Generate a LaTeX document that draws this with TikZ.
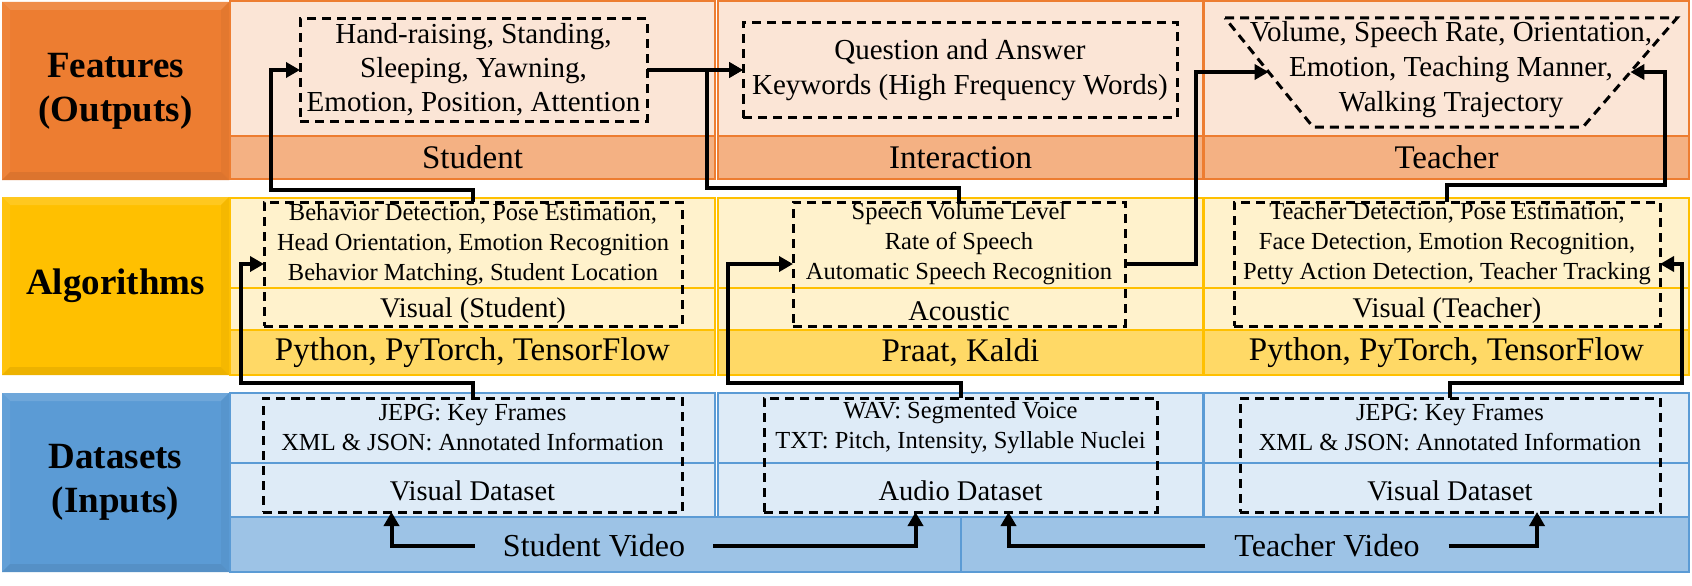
\documentclass[tikz,border=0pt]{standalone}
\usepackage{fontspec}
\setmainfont{Liberation Serif}
\usetikzlibrary{arrows.meta,calc}
\definecolor{fOr}{HTML}{ED7D31}
\definecolor{fPale}{HTML}{FBE5D6}
\definecolor{fMid}{HTML}{F4B183}
\definecolor{aGold}{HTML}{FFC000}
\definecolor{aPale}{HTML}{FFF2CC}
\definecolor{aMid}{HTML}{FFD966}
\definecolor{dBlue}{HTML}{5B9BD5}
\definecolor{dPale}{HTML}{DEEBF7}
\definecolor{dMid}{HTML}{9DC3E6}
\newcommand{\fsz}[2]{\fontsize{#1}{#2}\selectfont}
\newcommand{\bevel}[2]{%
  \fill[#2!88!white] (#1.north west) -- (#1.north east) -- ($(#1.north east)+(-8,8)$) -- ($(#1.north west)+(8,8)$) -- cycle;
  \fill[#2!95!white] (#1.north west) -- (#1.south west) -- ($(#1.south west)+(8,-8)$) -- ($(#1.north west)+(8,8)$) -- cycle;
  \fill[#2!96!black] (#1.north east) -- (#1.south east) -- ($(#1.south east)+(-8,-8)$) -- ($(#1.north east)+(-8,8)$) -- cycle;
  \fill[#2!93!black] (#1.south west) -- (#1.south east) -- ($(#1.south east)+(-8,-8)$) -- ($(#1.south west)+(8,-8)$) -- cycle;}
\begin{document}
\begin{tikzpicture}[x=1pt,y=-1pt,
  cell/.style={rectangle,draw,line width=2pt,inner sep=0pt,outer sep=0pt,anchor=north west},
  hdr/.style={rectangle,draw=none,inner sep=0pt,outer sep=0pt,anchor=north west,font=\fsz{37}{44}\bfseries,align=center},
  dbox/.style={draw=black,line width=3pt,dash pattern=on 9pt off 6pt,inner sep=0pt,outer sep=0pt},
  conn/.style={line width=4pt,-{Triangle[length=14pt,width=15pt]}},
  txt/.style={inner sep=0pt,align=center}]
\useasboundingbox[fill=white] (0,0) rectangle (1692,586);

% ---------- left headers ----------
\node[hdr,fill=fOr,minimum width=227,minimum height=178] (fh) at (2,2) {};
\node[hdr,fill=aGold,minimum width=227,minimum height=178] (ah) at (2,197) {};
\node[hdr,fill=dBlue,minimum width=227,minimum height=179] (dh) at (2,393) {};
\bevel{fh}{fOr}
\bevel{ah}{aGold}
\bevel{dh}{dBlue}
\node[txt,font=\fsz{37}{44}\bfseries] (fht) at (fh.center) {Features\\(Outputs)};
\node[txt,font=\fsz{37}{44}\bfseries] (aht) at (ah.center) {Algorithms};
\node[txt,font=\fsz{37}{44}\bfseries] (dht) at (dh.center) {Datasets\\(Inputs)};

% ---------- features columns ----------
\node[cell,draw=fOr,fill=fPale,minimum width=485,minimum height=135] (fu1) at (230,1) {};
\node[cell,draw=fOr,fill=fPale,minimum width=485,minimum height=135] (fu2) at (718,1) {};
\node[cell,draw=fOr,fill=fPale,minimum width=485,minimum height=135] (fu3) at (1204,1) {};
\node[cell,draw=fOr,fill=fMid,minimum width=485,minimum height=43,font=\fsz{33}{38}] (fb1) at (230,136) {Student};
\node[cell,draw=fOr,fill=fMid,minimum width=485,minimum height=43,font=\fsz{33}{38}] (fb2) at (718,136) {Interaction};
\node[cell,draw=fOr,fill=fMid,minimum width=485,minimum height=43,font=\fsz{33}{38}] (fb3) at (1204,136) {Teacher};

% ---------- algorithms columns ----------
\node[cell,draw=aGold,fill=aPale,minimum width=485,minimum height=90] (ar11) at (230,198) {};
\node[cell,draw=aGold,fill=aPale,minimum width=485,minimum height=90] (ar12) at (718,198) {};
\node[cell,draw=aGold,fill=aPale,minimum width=485,minimum height=90] (ar13) at (1204,198) {};
\node[cell,draw=aGold,fill=aPale,minimum width=485,minimum height=42] (ar21) at (230,288) {};
\node[cell,draw=aGold,fill=aPale,minimum width=485,minimum height=42] (ar22) at (718,288) {};
\node[cell,draw=aGold,fill=aPale,minimum width=485,minimum height=42] (ar23) at (1204,288) {};
\node[cell,draw=aGold,fill=aMid,minimum width=485,minimum height=45,font=\fsz{33}{38}] (ar31) at (230,330) {Python, PyTorch, TensorFlow};
\node[cell,draw=aGold,fill=aMid,minimum width=485,minimum height=45,font=\fsz{33}{38}] (ar32) at (718,330) {Praat, Kaldi};
\node[cell,draw=aGold,fill=aMid,minimum width=485,minimum height=45,font=\fsz{33}{38}] (ar33) at (1204,330) {Python, PyTorch, TensorFlow};

% ---------- datasets columns ----------
\node[cell,draw=dBlue,fill=dPale,minimum width=485,minimum height=70] (dr11) at (230,393) {};
\node[cell,draw=dBlue,fill=dPale,minimum width=485,minimum height=70] (dr12) at (718,393) {};
\node[cell,draw=dBlue,fill=dPale,minimum width=485,minimum height=70] (dr13) at (1204,393) {};
\node[cell,draw=dBlue,fill=dPale,minimum width=485,minimum height=54] (dr21) at (230,463) {};
\node[cell,draw=dBlue,fill=dPale,minimum width=485,minimum height=54] (dr22) at (718,463) {};
\node[cell,draw=dBlue,fill=dPale,minimum width=485,minimum height=54] (dr23) at (1204,463) {};
\node[cell,draw=dBlue,fill=dMid,minimum width=731,minimum height=55] (svc) at (230,517) {};
\node[cell,draw=dBlue,fill=dMid,minimum width=728,minimum height=55] (tvc) at (961,517) {};

% ---------- feature boxes ----------
\node[dbox,rectangle,minimum width=347,minimum height=102,align=center,font=\fsz{29}{34}] (sf) at (473.5,70) {Hand-raising, Standing,\\Sleeping, Yawning,\\Emotion, Position, Attention};
\node[dbox,rectangle,minimum width=434,minimum height=95,align=center,font=\fsz{29}{35}] (qa) at (960,70) {Question and Answer\\Keywords (High Frequency Words)};
\node[txt,font=\fsz{29}{35}] (tf) at (1451,70) {Volume, Speech Rate, Orientation,\\Emotion, Teaching Manner,\\Walking Trajectory};
\draw[dbox] (1225,18) -- (1677,18) -- (1583,127) -- (1313,127) -- cycle;
\coordinate (tfl) at (1268.6,72);
\coordinate (tfr) at (1630.4,72);

% ---------- algorithm boxes ----------
\node[dbox,rectangle,minimum width=418,minimum height=124] (sa) at (473,264) {};
\node[dbox,rectangle,minimum width=332,minimum height=124] (aa) at (959,264) {};
\node[dbox,rectangle,minimum width=426,minimum height=124] (ta) at (1447,264) {};
\node[txt,font=\fsz{24.5}{30}] (sat) at (473,245) {Behavior Detection, Pose Estimation,\\Head Orientation, Emotion Recognition\\Behavior Matching, Student Location};
\node[txt,font=\fsz{24.5}{30}] (aat) at (959,244) {Speech Volume Level\\Rate of Speech\\Automatic Speech Recognition};
\node[txt,font=\fsz{24.5}{30}] (tat) at (1447,244) {Teacher Detection, Pose Estimation,\\Face Detection, Emotion Recognition,\\Petty Action Detection, Teacher Tracking};
\node[txt,font=\fsz{28.5}{32}] (sal) at (473,311) {Visual (Student)};
\node[txt,font=\fsz{28.5}{32}] (aal) at (959,311) {Acoustic};
\node[txt,font=\fsz{28.5}{32}] (tal) at (1447,311) {Visual (Teacher)};

% ---------- dataset boxes ----------
\node[dbox,rectangle,minimum width=419,minimum height=114] (sd) at (472.5,455) {};
\node[dbox,rectangle,minimum width=393,minimum height=114] (ad) at (960.5,455) {};
\node[dbox,rectangle,minimum width=420,minimum height=114] (td) at (1450,455) {};
\node[txt,font=\fsz{24.5}{30}] (sdt) at (472.5,428) {JEPG: Key Frames\\XML \& JSON: Annotated Information};
\node[txt,font=\fsz{24.5}{30}] (adt) at (960.5,428) {WAV: Segmented Voice\\TXT: Pitch, Intensity, Syllable Nuclei};
\node[txt,font=\fsz{24.5}{30}] (tdt) at (1450,428) {JEPG: Key Frames\\XML \& JSON: Annotated Information};
\node[txt,font=\fsz{28.5}{32}] (sdl) at (472.5,491) {Visual Dataset};
\node[txt,font=\fsz{28.5}{32}] (adl) at (960.5,491) {Audio Dataset};
\node[txt,font=\fsz{28.5}{32}] (tdl) at (1450,491) {Visual Dataset};

% ---------- video labels ----------
\node[inner ysep=0pt,inner xsep=28pt,font=\fsz{32}{36}] (svt) at (594,546) {Student Video};
\node[inner ysep=0pt,inner xsep=29pt,font=\fsz{32}{36}] (tvt) at (1327,546) {Teacher Video};

% ---------- connectors ----------
\draw[conn] (sa.north) -- ++(0,-12) -| ($(sf.west)+(-29,0)$) -- (sf.west);
\draw[conn] (sf.east) -- (qa.west);
\draw[conn] (aa.north) -- ++(0,-14) -| ($(qa.west)+(-36,0)$) -- (qa.west);
\draw[conn] (aa.east) -- ++(71,0) |- (tfl);
\draw[conn] (ta.north) -- ++(0,-17) -- ++(218,0) |- (tfr);
\draw[conn] (sd.north) -- ++(0,-15) -| ($(sa.west)+(-23,0)$) -- (sa.west);
\draw[conn] (ad.north) -- ++(0,-15) -| ($(aa.west)+(-65,0)$) -- (aa.west);
\draw[conn] (td.north) -- ++(0,-15) -| ($(ta.east)+(22,0)$) -- (ta.east);
\draw[conn] (svt.west) -| ($(sd.south)+(-81,0)$);
\draw[conn] (svt.east) -| ($(ad.south)+(-45,0)$);
\draw[conn] (tvt.west) -| ($(ad.south)+(48,0)$);
\draw[conn] (tvt.east) -| ($(td.south)+(87,0)$);
\end{tikzpicture}
\end{document}
